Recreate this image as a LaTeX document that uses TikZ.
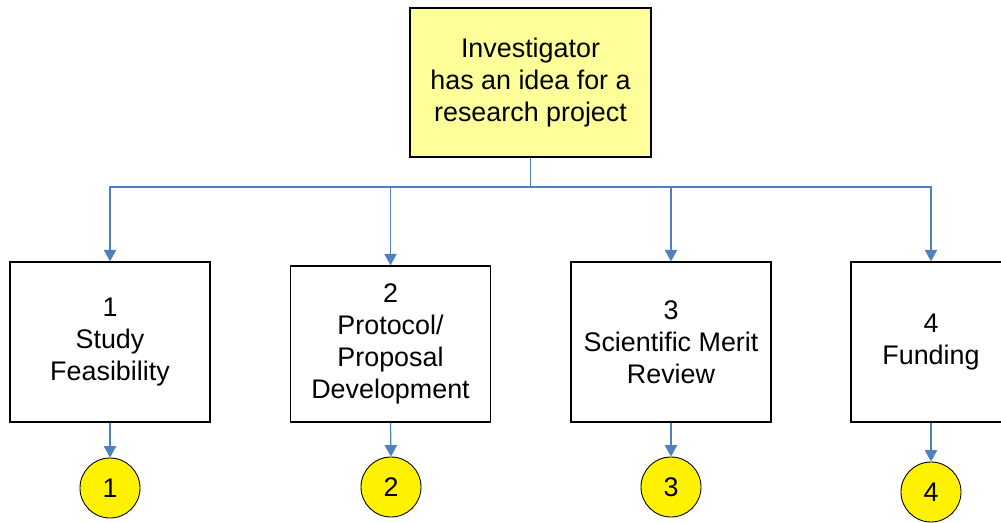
\documentclass[tikz,border=0pt]{standalone}
\usepackage{fontspec}
\setmainfont{Liberation Sans}
\usetikzlibrary{arrows.meta}
\definecolor{linkblue}{RGB}{79,129,189}
\definecolor{ideafill}{RGB}{255,255,153}
\tikzset{
  txt/.style={font=\fontsize{15.3}{18.2}\selectfont, align=center},
  stagebox/.style={txt, draw=black, line width=0.8pt, fill=white, minimum width=4cm, minimum height=3.2cm, inner sep=0pt},
  marker/.style={txt, draw=black, line width=0.5pt, fill=yellow, circle, minimum size=1.2cm, inner sep=0pt},
  link/.style={draw=linkblue, line width=0.7pt, -{Triangle[width=7pt,length=6.5pt]}}
}
\begin{document}
\begin{tikzpicture}
\useasboundingbox (0,0) rectangle (20.02,-10.44);
\clip (0,0) rectangle (20.02,-10.44);
% top
\node[stagebox, fill=ideafill, minimum width=4.82cm, minimum height=2.98cm] (idea) at (10.61,-1.65) {Investigator\\has an idea for a\\research project};
\coordinate (bus) at (10.61,-3.74);
% stages
\node[stagebox] (feas) at (2.2,-6.84) {1\\Study\\Feasibility};
\node[stagebox, minimum height=3.12cm] (proto) at (7.81,-6.88) {2\\Protocol/\\Proposal\\Development};
\node[stagebox] (merit) at (13.42,-6.84) {3\\Scientific Merit\\Review};
\node[stagebox, minimum width=3.2cm] (fund) at (18.62,-6.84) {4\\Funding};
% markers
\node[marker] (m1) at (2.2,-9.76) {1};
\node[marker] (m2) at (7.82,-9.74) {2};
\node[marker] (m3) at (13.42,-9.74) {3};
\node[marker] (m4) at (18.62,-9.84) {4};
\draw[draw=linkblue, line width=0.7pt] (idea.south) -- (bus);
\foreach \s/\m in {feas/m1,proto/m2,merit/m3,fund/m4}{
  \draw[link] (bus) -| (\s.north);
  \draw[link] (\s.south) -- (\m.north);
}
\end{tikzpicture}
\end{document}
